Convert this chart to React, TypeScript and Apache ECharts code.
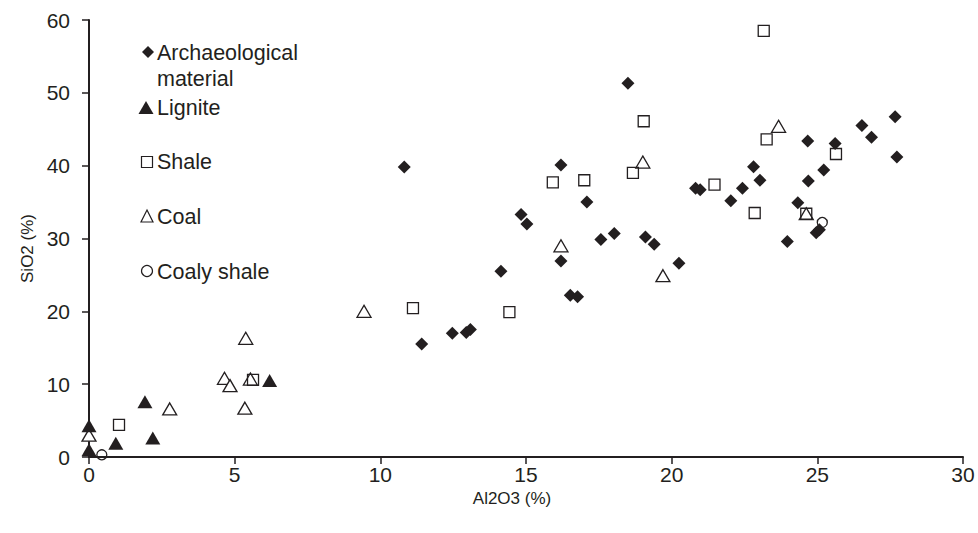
import React, { useEffect, useRef } from "react";
import * as echarts from "echarts";

const archaeological: [number, number][] = [
  [10.82, 39.8], [11.42, 15.5], [12.47, 17.0], [12.95, 17.1], [13.09, 17.5],
  [14.14, 25.5], [14.83, 33.3], [15.03, 32.0], [16.2, 40.1], [16.2, 26.9],
  [16.52, 22.2], [16.77, 22.0], [17.09, 35.0], [17.57, 29.85], [18.03, 30.7],
  [18.5, 51.3], [19.1, 30.2], [19.4, 29.2], [20.25, 26.6], [20.82, 36.9],
  [20.98, 36.7], [22.03, 35.2], [22.43, 36.9], [22.81, 39.85], [23.03, 38.0],
  [23.97, 29.6], [24.33, 34.9], [24.67, 43.4], [24.69, 37.9], [24.96, 30.8],
  [25.07, 31.2], [25.22, 39.4], [25.61, 43.05], [26.53, 45.5], [26.86, 43.9],
  [27.67, 46.7], [27.73, 41.2],
];
const lignite: [number, number][] = [
  [0, 4.3], [0, 1.0], [0.92, 1.9], [1.92, 7.6], [2.19, 2.6], [6.2, 10.5],
];
const shale: [number, number][] = [
  [1.03, 4.4], [5.63, 10.6], [11.12, 20.45], [14.43, 19.9], [15.92, 37.7],
  [17.0, 38.0], [18.67, 39.0], [19.04, 46.1], [21.47, 37.4], [22.85, 33.5],
  [23.16, 58.5], [23.26, 43.6], [24.62, 33.4], [25.64, 41.6],
];
const coal: [number, number][] = [
  [0, 3.0], [2.77, 6.6], [4.65, 10.8], [4.84, 9.8], [5.35, 6.7], [5.38, 16.3],
  [5.54, 10.7], [9.44, 20.0], [16.2, 29.0], [19.01, 40.5], [19.7, 24.9],
  [23.67, 45.4], [24.62, 33.4],
];
const coalyShale: [number, number][] = [
  [0.44, 0.3], [25.17, 32.2],
];

const xTicks = { min: 0, max: 30, interval: 5 };
const yTicks = { min: 0, max: 60, interval: 10 };

const FONT = "Liberation Sans, Arial, sans-serif";
const DARK = "#231f20";

export default function App() {
  const ref = useRef<HTMLDivElement>(null);
  useEffect(() => {
    if (!ref.current) return;
    const chart = echarts.init(ref.current, null, { renderer: "svg" });
    const diamondPath = "path://M0,-1L1,0L0,1L-1,0Z";
    const lx = 147;
    const tx = 157;
    const legendStyle = { fill: DARK, font: `21.5px ${FONT}`, verticalAlign: "middle" };
    chart.setOption({
      animation: false,
      backgroundColor: "#ffffff",
      grid: { left: 89, right: 15, top: 20, bottom: 76, containLabel: false },
      xAxis: {
        type: "value",
        min: xTicks.min,
        max: xTicks.max,
        interval: xTicks.interval,
        name: "Al2O3 (%)",
        nameLocation: "middle",
        nameGap: 29,
        nameTextStyle: { color: DARK, fontFamily: FONT, fontSize: 17, padding: [0, 28, 0, 0] },
        axisLine: { show: true, lineStyle: { color: DARK, width: 2 } },
        axisTick: { show: true, length: 7, lineStyle: { color: DARK, width: 1.5 } },
        axisLabel: { color: DARK, fontFamily: FONT, fontSize: 21, margin: 7 },
        splitLine: { show: false },
      },
      yAxis: {
        type: "value",
        min: yTicks.min,
        max: yTicks.max,
        interval: yTicks.interval,
        name: "SiO2 (%)",
        nameLocation: "middle",
        nameGap: 51,
        nameRotate: 90,
        nameTextStyle: { color: DARK, fontFamily: FONT, fontSize: 17, padding: [0, 20, 0, 0] },
        axisLine: { show: true, lineStyle: { color: DARK, width: 2 } },
        axisTick: { show: true, length: 7, lineStyle: { color: DARK, width: 1.5 } },
        axisLabel: { color: DARK, fontFamily: FONT, fontSize: 21, margin: 19 },
        splitLine: { show: false },
      },
      series: [
        {
          name: "Coal",
          type: "scatter",
          data: coal,
          symbol: "triangle",
          symbolSize: [14, 12],
          itemStyle: { color: "#ffffff", borderColor: DARK, borderWidth: 1.3, opacity: 1 },
          z: 2,
        },
        {
          name: "Shale",
          type: "scatter",
          data: shale,
          symbol: "rect",
          symbolSize: 11,
          itemStyle: { color: "rgba(255,255,255,0)", borderColor: DARK, borderWidth: 1.3, opacity: 1 },
          z: 3,
        },
        {
          name: "Coaly shale",
          type: "scatter",
          data: coalyShale,
          symbol: "circle",
          symbolSize: 10,
          itemStyle: { color: "rgba(255,255,255,0)", borderColor: DARK, borderWidth: 1.3, opacity: 1 },
          z: 3,
        },
        {
          name: "Lignite",
          type: "scatter",
          data: lignite,
          symbol: "triangle",
          symbolSize: [15, 13],
          itemStyle: { color: DARK, opacity: 1 },
          z: 4,
        },
        {
          name: "Archaeological material",
          type: "scatter",
          data: archaeological,
          symbol: diamondPath,
          symbolSize: 13,
          itemStyle: { color: DARK, opacity: 1 },
          z: 5,
        },
      ],
      graphic: [
        {
          type: "polygon",
          shape: { points: [[lx + 1, 46], [lx + 7, 52], [lx + 1, 58], [lx - 5, 52]] },
          style: { fill: DARK },
        },
        { type: "text", x: tx, y: 53, style: { ...legendStyle, text: "Archaeological" } },
        { type: "text", x: tx, y: 79, style: { ...legendStyle, text: "material" } },
        {
          type: "polygon",
          shape: { points: [[lx - 1, 101], [lx + 6.5, 114], [lx - 8.5, 114]] },
          style: { fill: DARK },
        },
        { type: "text", x: tx, y: 108, style: { ...legendStyle, text: "Lignite" } },
        {
          type: "rect",
          shape: { x: lx - 5.5, y: 156.5, width: 11, height: 11 },
          style: { fill: "none", stroke: DARK, lineWidth: 1.2 },
        },
        { type: "text", x: tx, y: 162, style: { ...legendStyle, text: "Shale" } },
        {
          type: "polygon",
          shape: { points: [[lx, 210], [lx + 6, 222], [lx - 6, 222]] },
          style: { fill: "none", stroke: DARK, lineWidth: 1.2 },
        },
        { type: "text", x: tx, y: 217, style: { ...legendStyle, text: "Coal" } },
        {
          type: "circle",
          shape: { cx: lx, cy: 271, r: 5.5 },
          style: { fill: "none", stroke: DARK, lineWidth: 1.2 },
        },
        { type: "text", x: tx, y: 272, style: { ...legendStyle, text: "Coaly shale" } },
      ],
    });
    return () => chart.dispose();
  }, []);
  return <div ref={ref} style={{ width: 978, height: 533, position: "absolute", left: 0, top: 0 }} />;
}
